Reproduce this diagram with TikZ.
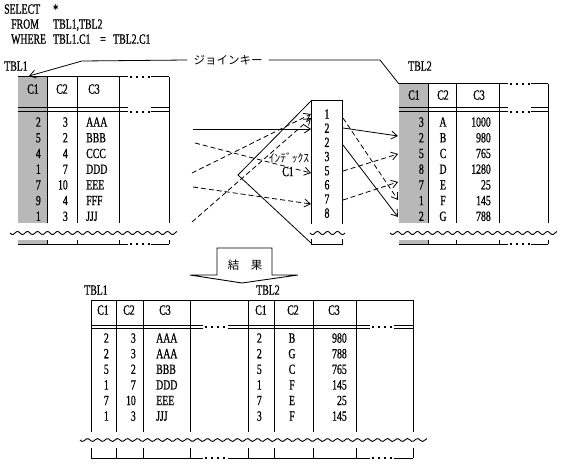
\documentclass[tikz,border=0pt]{standalone}
\usepackage{fontspec}
\setmainfont[FakeStretch=0.7,FakeBold=0.8]{Liberation Serif}
\newfontfamily\jp{Noto Sans CJK JP}
\usetikzlibrary{arrows.meta}
\definecolor{cg}{gray}{0.72}
\newcommand\mydots[2]{\foreach \i in {0,1,2,3}{\fill ({#1+6*\i},{#2-1}) rectangle ++(2,2);}}
\newcommand\mywave[3]{\draw[line width=0.9pt] plot[domain=0:{#2-#1},samples=160,smooth] ({#1+\x},{#3+1.5*sin(36*\x)});}
\begin{document}
\begin{tikzpicture}[x=1pt,y=-1pt,
  lt/.style={font=\fontsize{14}{14}\selectfont, inner sep=0pt, text height=9.3pt, text depth=0pt},
  jt/.style={font=\jp\fontsize{11.5}{12}\selectfont, inner sep=1pt},
  tb/.style={line width=1pt},
  cn/.style={line width=0.8pt},
  dsh/.style={cn, dash pattern=on 5pt off 3pt},
  arr/.style={-{Straight Barb[length=6pt,width=8pt]}},
]
\useasboundingbox (0,0) rectangle (564,465);

% ---------- SQL text ----------
\node[lt,anchor=west] (s1) at (4,9) {SELECT};
\node[lt,anchor=west] (s2) at (53,9) {*};
\node[lt,anchor=west] (s3) at (11,24) {FROM};
\node[lt,anchor=west] (s4) at (53,24) {TBL1,TBL2};
\node[lt,anchor=west] (s5) at (11,39) {WHERE};
\node[lt,anchor=west] (s6) at (53,39) {TBL1.C1};
\node[lt] (s7) at (103,39) {=};
\node[lt,anchor=west] (s8) at (113,39) {TBL2.C1};

% ---------- TBL1 (top left) ----------
\node[lt] (l1) at (16,66) {TBL1};
\fill[cg] (18,77) rectangle (47,223);
\fill[cg] (18,240) rectangle (47,244);
\draw[tb] (18,77) -- (128,77) (151,77) -- (169,77);
\mydots{129.5}{77}
\draw[tb] (47,77)--(47,223) (77,77)--(77,223) (119,77)--(119,223) (169,77)--(169,223);
\draw[tb] (18,108)--(128,108) (18,112)--(128,112) (151,108)--(169,108) (151,112)--(169,112);
\mydots{129.5}{112}
\mywave{10}{177}{233}
\draw[tb] (47,240)--(47,244) (77,240)--(77,244) (119,240)--(119,244) (169,240)--(169,244);
\draw[tb] (18,244)--(128,244) (151,244)--(169,244);
\mydots{129.5}{244}
\node[lt] (h11) at (33,89) {C1};
\node[lt] (h12) at (62,89) {C2};
\node[lt] (h13) at (94,89) {C3};
\foreach \a/\b/\c [count=\i from 0] in {2/3/AAA,5/2/BBB,4/4/CCC,1/7/DDD,7/10/EEE,9/4/FFF,1/3/JJJ}{
  \node[lt,anchor=east] (ta\i) at (41,{122+15.7*\i}) {\a};
  \node[lt,anchor=east] (tb\i) at (68,{122+15.7*\i}) {\b};
  \node[lt,anchor=west] (tc\i) at (86,{122+15.7*\i}) {\c};
}

% ---------- TBL2 (top right) ----------
\node[lt] (l2) at (420,66) {TBL2};
\fill[cg] (399,84) rectangle (428,223);
\fill[cg] (399,240) rectangle (428,244);
\draw[tb] (399,84) -- (508,84) (531,84) -- (548,84);
\mydots{509.5}{84}
\draw[tb] (428,84)--(428,223) (456,84)--(456,223) (499,84)--(499,223) (548,84)--(548,223);
\draw[tb] (399,108)--(508,108) (399,112)--(508,112) (531,108)--(548,108) (531,112)--(548,112);
\mydots{509.5}{112}
\mywave{390}{557}{233}
\draw[tb] (428,240)--(428,244) (456,240)--(456,244) (499,240)--(499,244) (548,240)--(548,244);
\draw[tb] (399,244)--(508,244) (531,244)--(548,244);
\mydots{509.5}{244}
\node[lt] (h21) at (414,95) {C1};
\node[lt] (h22) at (443,95) {C2};
\node[lt] (h23) at (479,95) {C3};
\foreach \a/\b/\c [count=\i from 0] in {3/A/1000,2/B/980,5/C/765,8/D/1280,7/E/25,1/F/145,2/G/788}{
  \node[lt,anchor=east] (ua\i) at (424,{122+15.7*\i}) {\a};
  \node[lt] (ub\i) at (443,{122+15.7*\i}) {\b};
  \node[lt,anchor=east] (uc\i) at (491,{122+15.7*\i}) {\c};
}

% ---------- index box ----------
\draw[tb] (311,224)--(311,101)--(342,101)--(342,224);
\mywave{310}{345}{233}
\draw[tb] (311,239)--(311,244)--(342,244)--(342,239);
\foreach \n [count=\i from 0] in {1,2,2,3,5,6,7,8}{
  \node[lt] (ix\i) at (327,{114+14.15*\i}) {\n};
}
% wedge
\coordinate (wt) at (311,101);
\coordinate (wm) at (238,175);
\coordinate (wb) at (311,243);
\draw[cn] (wt) -- (wm) -- (wb);

% ---------- join key ----------
\node[jt, inner xsep=6pt] (jk) at (228,60) {ジョインキー};
\coordinate (jkl) at (82,61);
\coordinate (c1t1) at (29,76);
\coordinate (jkr) at (380,60);
\coordinate (c1t2) at (399,84);
\draw[cn,arr] (jk.west) -- (jkl) -- (c1t1);
\draw[cn] (jk.east) -- (jkr) -- (c1t2);

% ---------- TBL1 -> index ----------
\coordinate (p1) at (193,129);  \coordinate (q1) at (311,129);
\coordinate (p2) at (195,143);  \coordinate (q2) at (311,173);
\coordinate (p3) at (192,173);  \coordinate (q3) at (311,114);
\coordinate (p4) at (193,187);  \coordinate (q4) at (311,204);
\coordinate (p5) at (192,222);  \coordinate (q5) at (311,118);
\draw[cn,arr] (p1) -- (q1);
\draw[dsh,arr] (p2) -- (q2);
\draw[dsh,arr] (p3) -- (q3);
\draw[dsh,arr] (p4) -- (q4);
\draw[dsh,arr] (p5) -- (q5);

% ---------- index -> TBL2 ----------
\coordinate (r1) at (343,128);  \coordinate (s1e) at (398,136);
\coordinate (r2) at (343,118);  \coordinate (s2e) at (398,200);
\coordinate (r3) at (343,145);  \coordinate (s3e) at (398,217);
\coordinate (r4) at (343,171);  \coordinate (s4e) at (398,154);
\coordinate (r5) at (343,200);  \coordinate (s5e) at (398,182);
\draw[cn,arr] (r1) -- (s1e);
\draw[dsh,arr] (r2) -- (s2e);
\draw[cn,arr] (r3) -- (s3e);
\draw[dsh,arr] (r4) -- (s4e);
\draw[dsh,arr] (r5) -- (s5e);

\node[jt, inner sep=0pt] (idx) at (289,158) {ｲﾝﾃﾞｯｸｽ};
\node[lt, fill=white, inner xsep=0.5pt] (ic1) at (288,171.5) {C1};

% ---------- result arrow ----------
\draw[cn, line width=0.9pt] (217,248) -- (272,248) -- (272,275) -- (298,275) -- (242,283) -- (190,275) -- (217,275) -- cycle;
\node[jt] (kk) at (245,265) {結　果};

% ---------- result table ----------
\node[lt] (l3) at (96,290) {TBL1};
\node[lt] (l4) at (268,290) {TBL2};
\draw[tb] (91,300) -- (413,300);
\foreach \x in {91,116,143,190,248,274,313,356,413}{
  \draw[tb] (\x,300) -- (\x,432);
  \draw[tb] (\x,448) -- (\x,458);
}
\draw[tb] (91,325)--(203,325) (91,328)--(203,328) (228,325)--(370,325) (228,328)--(370,328) (394,325)--(413,325) (394,328)--(413,328);
\mydots{205}{327}
\mydots{372}{327}
\mywave{80}{427}{440}
\draw[tb] (91,458)--(203,458) (228,458)--(370,458) (394,458)--(413,458);
\mydots{205}{458}
\mydots{372}{458}
\node[lt] (g1) at (103,310) {C1};
\node[lt] (g2) at (129,310) {C2};
\node[lt] (g3) at (165,310) {C3};
\node[lt] (g4) at (261,310) {C1};
\node[lt] (g5) at (293,310) {C2};
\node[lt] (g6) at (334,310) {C3};
\foreach \a/\b/\c/\d/\e/\f [count=\i from 0] in {2/3/AAA/2/B/980,2/3/AAA/2/G/788,5/2/BBB/5/C/765,1/7/DDD/1/F/145,7/10/EEE/7/E/25,1/3/JJJ/3/F/145}{
  \node[lt,anchor=east] (va\i) at (109,{338+15.6*\i}) {\a};
  \node[lt,anchor=east] (vb\i) at (136,{338+15.6*\i}) {\b};
  \node[lt,anchor=west] (vc\i) at (156,{338+15.6*\i}) {\c};
  \node[lt,anchor=east] (vd\i) at (262,{338+15.6*\i}) {\d};
  \node[lt] (ve\i) at (292,{338+15.6*\i}) {\e};
  \node[lt,anchor=east] (vf\i) at (347,{338+15.6*\i}) {\f};
}
\end{tikzpicture}
\end{document}
